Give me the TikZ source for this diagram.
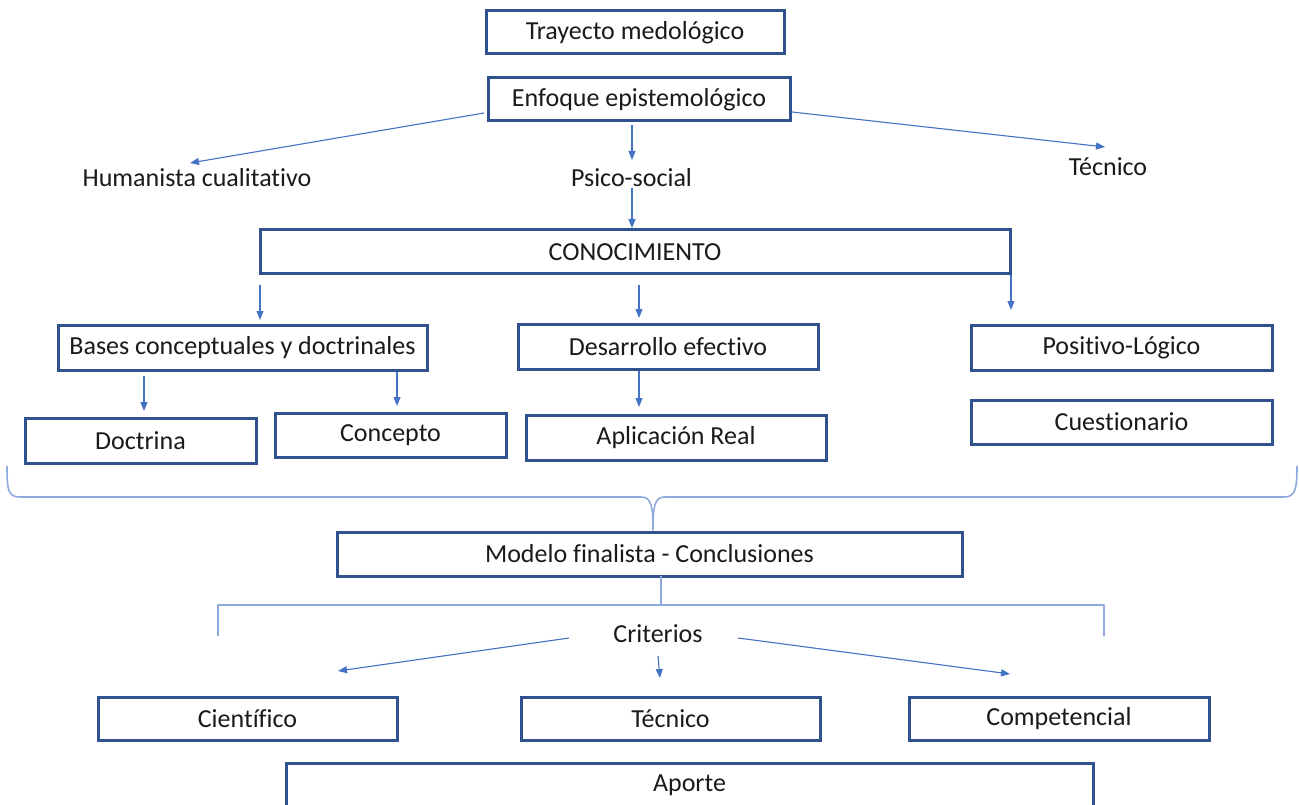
\documentclass[tikz,border=0pt]{standalone}
\usepackage{fontspec}
\setmainfont[Ligatures=NoCommon]{Carlito}
\usetikzlibrary{arrows.meta,calc}
\definecolor{boxblue}{HTML}{2F528F}
\definecolor{arrblue}{HTML}{4472C4}
\definecolor{braceblue}{HTML}{8FAADC}
\definecolor{txt}{HTML}{1A1A1A}
\begin{document}
\begin{tikzpicture}[x=1pt,y=-1pt,
  font=\fontsize{26}{30}\selectfont, text=txt,
  box/.style={draw=boxblue, line width=3pt, fill=white, inner sep=0pt, outer sep=0pt},
  lbl/.style={inner sep=0pt},
  arr/.style={draw=arrblue, line width=1.1pt, -{Triangle[length=9pt,width=7pt]}},
  bracket/.style={draw=braceblue, line width=1.6pt, line join=round}]
\useasboundingbox (0,0) rectangle (1299,805);

% boxes
\node[box, minimum width=298, minimum height=43] (tray) at (635,32.5) {Trayecto medológico};
\node[box, minimum width=302, minimum height=43] (enf) at (639,99.5) {Enfoque epistemológico};
\node[box, minimum width=750, minimum height=44] (cono) at (635,252) {CONOCIMIENTO};
\node[box, minimum width=369, minimum height=45] (bases) at (242.5,347.5) {Bases conceptuales y doctrinales};
\node[box, minimum width=300, minimum height=45] (desa) at (668,346.5) {Desarrollo efectivo};
\node[box, minimum width=301, minimum height=45] (posi) at (1121.5,347.5) {Positivo-Lógico};
\node[box, minimum width=231, minimum height=45] (doct) at (140.5,440.5) {Doctrina};
\node[box, minimum width=231, minimum height=44] (conc) at (390.5,435) {Concepto};
\node[box, minimum width=300, minimum height=45] (apli) at (676,437.5) {Aplicación Real};
\node[box, minimum width=301, minimum height=44] (cues) at (1121.5,422) {Cuestionario};
\node[box, minimum width=625, minimum height=44] (modelo) at (649.5,554) {Modelo finalista - Conclusiones};
\node[box, minimum width=299, minimum height=43] (cien) at (247.5,718.5) {Científico};
\node[box, minimum width=299, minimum height=43] (tecb) at (670.5,718.5) {Técnico};
\node[box, minimum width=300, minimum height=43] (comp) at (1059,718.5) {Competencial};
\node[box, minimum width=807, minimum height=44] (aporte) at (689.5,785) {Aporte};

% plain labels
\node[lbl] (hum) at (197,178) {Humanista cualitativo};
\node[lbl] (psi) at (631.5,178) {Psico-social};
\node[lbl] (tec) at (1108,167) {Técnico};
\node[lbl] (crit) at (658,634) {Criterios};

% arrows
\draw[arr] ($(enf.west)+(-4,13.5)$) -- ($(hum.center)+(-7,-15)$);
\draw[arr] ($(enf.south)+(-7,4)$) -- ($(psi.center)+(0.5,-18)$);
\draw[arr] ($(enf.east)+(2,12.5)$) -- ($(tec.center)+(-3,-20)$);
\draw[arr] ($(psi.center)+(0.5,10)$) -- ($(cono.north)+(-3,-2)$);
\draw[arr] ($(cono.south west)+(0,11)$) -- ($(bases.north)+(17.5,-5)$);
\draw[arr] ($(cono.south)+(4,11)$) -- ($(desa.north)+(-29,-6)$);
\draw[arr] ($(cono.south east)+(1,1)$) -- ($(posi.north west)+(40,-15)$);
\draw[arr] ($(bases.south west)+(86,6)$) -- ($(doct.north)+(3.5,-7)$);
\draw[arr] ($(bases.south east)+(-30,2)$) -- ($(conc.north)+(6.5,-7)$);
\draw[arr] ($(desa.south)+(-29,2)$) -- ($(apli.north)+(-37,-8)$);
\draw[arr] ($(crit.center)+(-89,4)$) -- ($(cien.north)+(90.5,-26)$);
\draw[arr] ($(crit.center)+(0,22)$) -- ($(tecb.north)+(-10.5,-19)$);
\draw[arr] ($(crit.center)+(80,4)$) -- ($(comp.north)+(-49,-23)$);

% brace gathering the upper level into the model
\coordinate (btip) at ($(modelo.north)+(3.5,-2)$);
\coordinate (bl) at (7,466);
\coordinate (br) at (1297,466);
\draw[bracket] (bl) .. controls (7,490) and (8,497) .. (20,497)
  -- (641,497) .. controls (651,497) and (653,505) .. (btip)
  .. controls (653,505) and (655,497) .. (665,497)
  -- (1284,497) .. controls (1295,497) and (1297,490) .. (br);

% bracket under the model
\coordinate (kl) at (218,636);
\coordinate (kr) at (1104,636);
\coordinate (kj) at (661,605);
\draw[bracket] ($(modelo.south)+(11.5,0)$) -- (kj);
\draw[bracket] (kl) -- (218,605) -- (1104,605) -- (kr);
\end{tikzpicture}
\end{document}
